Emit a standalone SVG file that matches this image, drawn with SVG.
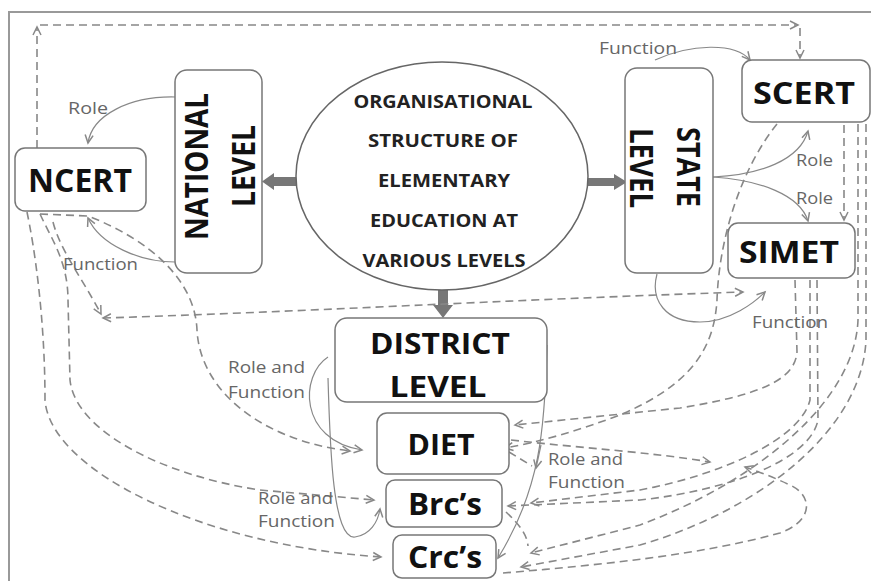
<svg xmlns="http://www.w3.org/2000/svg" width="871" height="581" viewBox="0 0 871 581">
<style>
.box{fill:#fff;stroke:#777;stroke-width:1.5}
.nb{font-family:"Open Sans","Liberation Sans",sans-serif;font-weight:bold;fill:#111;text-anchor:middle}
.eb{font-family:"Open Sans","Liberation Sans",sans-serif;font-weight:bold;fill:#222;font-size:18px;text-anchor:middle}
.lb{font-family:"Open Sans","Liberation Sans",sans-serif;font-size:16px;fill:#666}
.d{fill:none;stroke:#888;stroke-width:1.6;stroke-dasharray:8 5}
.s{fill:none;stroke:#888;stroke-width:1.2}
.blk{fill:#777}
</style>
<defs>
<marker id="a" markerUnits="userSpaceOnUse" markerWidth="12" markerHeight="12" refX="9" refY="5" orient="auto-start-reverse">
<path d="M1,1 L9,5 L1,9" fill="none" stroke="#888" stroke-width="1.5"/>
</marker>
</defs>
<rect x="9" y="12" width="872" height="580" fill="#fff" stroke="#999" stroke-width="2"/>

<g id="connectors">
<!-- block arrows -->
<polygon class="blk" points="297,177 274,177 274,173 262,181.5 274,190 274,186 297,186"/>
<polygon class="blk" points="588,178 614,178 614,174 627,182 614,190 614,186 588,186"/>
<polygon class="blk" points="438,290 448,290 448,305 453,305 443,318 433,305 438,305"/>

<!-- top dashed loop -->
<path class="d" d="M37,148 L37,27" marker-end="url(#a)"/>
<path class="d" d="M40,25 L798,25" marker-end="url(#a)"/>
<path class="d" d="M800,28 L800,58" marker-end="url(#a)"/>

<!-- NCERT solid -->
<path class="s" d="M175,97 C130,96 92,115 88,143" marker-end="url(#a)"/>
<path class="s" d="M175,262 C140,262 100,245 88,218" marker-end="url(#a)"/>

<!-- NCERT dashed downward -->
<path class="d" d="M27,212 C35,250 45,320 45,400 C50,470 200,545 381,557" marker-end="url(#a)"/>
<path class="d" d="M40,214 C52,240 68,262 68,300 L70,380 C75,430 160,475 260,490 L374,500" marker-end="url(#a)"/>
<path class="d" d="M53,222 C60,250 82,278 101,314" marker-end="url(#a)"/>
<path class="d" d="M40,214 L88,216 C150,240 195,280 197,330 C200,390 260,440 350,451" marker-end="url(#a)"/>
<path class="d" d="M103,318 C300,312 500,300 743,292" marker-start="url(#a)" marker-end="url(#a)"/>

<!-- district solid -->
<path class="s" d="M328,357 C300,375 298,440 362,450" marker-end="url(#a)"/>
<path class="s" d="M328,378 C330,450 333,540 355,537 C370,535 378,522 380,509" marker-end="url(#a)"/>
<path class="s" d="M547,345 C545,430 540,490 498,558" marker-end="url(#a)"/>
<path class="s" d="M541,445 L536,468" marker-end="url(#a)"/>

<!-- state solid -->
<path class="s" d="M655,60 C690,44 735,42 750,60" marker-end="url(#a)"/>
<path class="s" d="M713,177 C760,175 800,160 808,131" marker-end="url(#a)"/>
<path class="s" d="M713,177 C760,180 800,195 808,221" marker-end="url(#a)"/>
<path class="s" d="M657,274 C650,300 665,322 700,322 C730,322 755,302 765,292" marker-end="url(#a)"/>

<!-- right dashed -->
<path class="d" d="M844,125 L844,220" marker-end="url(#a)"/>
<path class="d" d="M777,124 C740,170 719,240 717,300 C714,350 690,385 620,415 C580,430 540,442 505,448" marker-end="url(#a)"/>
<path class="d" d="M795,280 L797,352 C795,380 760,395 680,408 L515,425" marker-end="url(#a)"/>
<path class="d" d="M511,440 C580,448 650,452 710,462" marker-end="url(#a)"/>
<path class="d" d="M810,280 L810,400 C800,440 720,475 640,490 L531,503" marker-end="url(#a)"/>
<path class="d" d="M817,280 L818,420 C810,460 730,490 640,500 L508,506" marker-end="url(#a)"/>
<path class="d" d="M858,124 L858,320 C855,400 760,480 640,525 L531,553" marker-end="url(#a)"/>
<path class="d" d="M866,124 L866,340 C862,430 760,510 640,545 L521,567" marker-end="url(#a)"/>
<path class="d" d="M503,573 C600,565 700,555 780,533 C815,520 812,495 790,485 C775,478 760,472 745,467" marker-end="url(#a)"/>
<path class="d" d="M509,452 L532,466"/>
<path class="d" d="M506,512 C520,525 527,535 528,546"/>
</g>

<g id="ellipse">
<ellipse cx="442" cy="176" rx="146" ry="114" fill="#fff" stroke="#666" stroke-width="1.5"/>
<text class="eb" x="443" y="108" textLength="179" lengthAdjust="spacingAndGlyphs">ORGANISATIONAL</text>
<text class="eb" x="443" y="147" textLength="150" lengthAdjust="spacingAndGlyphs">STRUCTURE OF</text>
<text class="eb" x="444" y="187" textLength="132" lengthAdjust="spacingAndGlyphs">ELEMENTARY</text>
<text class="eb" x="444" y="227" textLength="148" lengthAdjust="spacingAndGlyphs">EDUCATION AT</text>
<text class="eb" x="444" y="267" textLength="163" lengthAdjust="spacingAndGlyphs">VARIOUS LEVELS</text>
</g>

<g id="ncert">
<rect class="box" x="15" y="148" width="131" height="63" rx="10"/>
<text class="nb" x="80" y="192" font-size="33" textLength="104" lengthAdjust="spacingAndGlyphs">NCERT</text>
</g>

<g id="national">
<rect class="box" x="175" y="70" width="87" height="203" rx="12"/>
<text class="nb" font-size="33" transform="translate(208,166.5) rotate(-90)" textLength="147" lengthAdjust="spacingAndGlyphs">NATIONAL</text>
<text class="nb" font-size="33" transform="translate(255,166) rotate(-90)" textLength="82" lengthAdjust="spacingAndGlyphs">LEVEL</text>
</g>

<g id="state">
<rect class="box" x="625" y="68" width="88" height="205" rx="12"/>
<text class="nb" font-size="33" transform="translate(677,167) rotate(90)" textLength="80" lengthAdjust="spacingAndGlyphs">STATE</text>
<text class="nb" font-size="33" transform="translate(630,168) rotate(90)" textLength="80" lengthAdjust="spacingAndGlyphs">LEVEL</text>
</g>

<g id="scert">
<rect class="box" x="742" y="60" width="128" height="62" rx="10"/>
<text class="nb" x="804" y="104" font-size="31" textLength="102" lengthAdjust="spacingAndGlyphs">SCERT</text>
</g>

<g id="simet">
<rect class="box" x="728" y="223" width="127" height="55" rx="10"/>
<text class="nb" x="789" y="263" font-size="31" textLength="100" lengthAdjust="spacingAndGlyphs">SIMET</text>
</g>

<g id="district">
<rect class="box" x="335" y="318" width="212" height="84" rx="12"/>
<text class="nb" x="440" y="354" font-size="28" textLength="140" lengthAdjust="spacingAndGlyphs">DISTRICT</text>
<text class="nb" x="438" y="397" font-size="28" textLength="97" lengthAdjust="spacingAndGlyphs">LEVEL</text>
</g>

<g id="diet">
<rect class="box" x="377" y="413" width="132" height="61" rx="10"/>
<text class="nb" x="441" y="455" font-size="29" textLength="67" lengthAdjust="spacingAndGlyphs">DIET</text>
</g>

<g id="brcs">
<rect class="box" x="386" y="480" width="116" height="47" rx="9"/>
<text class="nb" x="445" y="515" font-size="30" textLength="74" lengthAdjust="spacingAndGlyphs">Brc’s</text>
</g>

<g id="crcs">
<rect class="box" x="393" y="535" width="103" height="43" rx="9"/>
<text class="nb" x="445" y="568" font-size="30" textLength="74" lengthAdjust="spacingAndGlyphs">Crc’s</text>
</g>

<g id="labels">
<text class="lb" x="68" y="114" textLength="40" lengthAdjust="spacingAndGlyphs">Role</text>
<text class="lb" x="63" y="270" textLength="75" lengthAdjust="spacingAndGlyphs">Function</text>
<text class="lb" x="599" y="54" textLength="78" lengthAdjust="spacingAndGlyphs">Function</text>
<text class="lb" x="796" y="166" textLength="37" lengthAdjust="spacingAndGlyphs">Role</text>
<text class="lb" x="796" y="204" textLength="37" lengthAdjust="spacingAndGlyphs">Role</text>
<text class="lb" x="752" y="328" textLength="76" lengthAdjust="spacingAndGlyphs">Function</text>
<text class="lb" x="228" y="373" textLength="77" lengthAdjust="spacingAndGlyphs">Role and</text>
<text class="lb" x="228" y="398" textLength="77" lengthAdjust="spacingAndGlyphs">Function</text>
<text class="lb" x="258" y="504" textLength="75" lengthAdjust="spacingAndGlyphs">Role and</text>
<text class="lb" x="258" y="527" textLength="77" lengthAdjust="spacingAndGlyphs">Function</text>
<text class="lb" x="548" y="465" textLength="75" lengthAdjust="spacingAndGlyphs">Role and</text>
<text class="lb" x="548" y="488" textLength="77" lengthAdjust="spacingAndGlyphs">Function</text>
</g>
</svg>
